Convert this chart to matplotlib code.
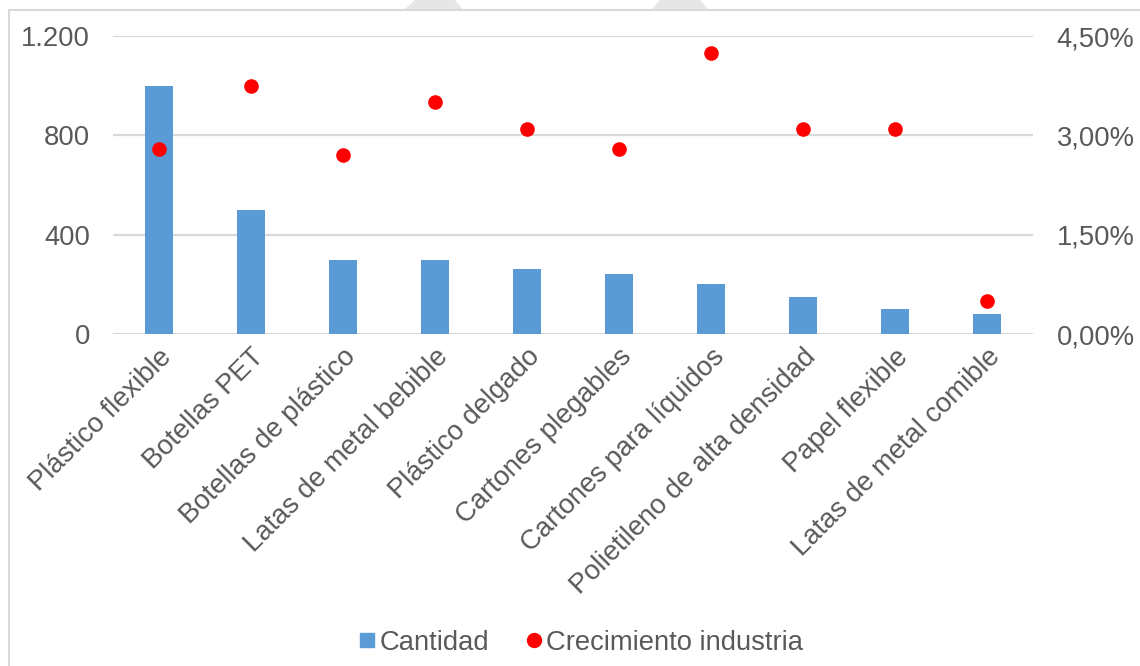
import numpy as np
import matplotlib.pyplot as plt
from matplotlib.lines import Line2D
from matplotlib.patches import Polygon, Rectangle

plt.rcParams['font.family'] = 'Liberation Sans'

# data
categorias = ['Plástico flexible', 'Botellas PET', 'Botellas de plástico',
              'Latas de metal bebible', 'Plástico delgado', 'Cartones plegables',
              'Cartones para líquidos', 'Polietileno de alta densidad',
              'Papel flexible', 'Latas de metal comible']
cantidad = [1000, 500, 300, 300, 260, 240, 200, 150, 100, 80]
crecimiento = [2.8, 3.75, 2.7, 3.5, 3.1, 2.8, 4.25, 3.1, 3.1, 0.5]  # %

gris = '#595959'
azul = '#5b9bd5'
rojo = '#ff0000'
fs = 19.7

fig = plt.figure(figsize=(11.4, 6.66), dpi=100)

# light frame and faint shapes along the top edge
fig.add_artist(Rectangle((9/1140, -0.1), 1.2, 1 - 10/666 + 0.1, transform=fig.transFigure,
                         fill=False, edgecolor='#d9d9d9', linewidth=1.5))
for xs in [(405, 415, 455, 462), (652, 660, 700, 708)]:
    pts = [(xs[0]/1140, 1 - 9/666), (xs[1]/1140, 1.0), (xs[2]/1140, 1.0), (xs[3]/1140, 1 - 9/666)]
    fig.add_artist(Polygon(pts, closed=True, transform=fig.transFigure,
                           facecolor='#e6e6e6', edgecolor='none'))

ax = fig.add_axes([113/1140, 1 - 334/666, 920/1140, 298/666])
x = np.arange(len(categorias))
ax.bar(x, cantidad, width=0.3, color=azul, zorder=2)
ax.set_xlim(-0.5, len(categorias) - 0.5)
ax.set_ylim(0, 1200)
ax.set_yticks([0, 400, 800, 1200])
ax.set_yticklabels(['{:,}'.format(v).replace(',', '.') for v in [0, 400, 800, 1200]])
ax.grid(axis='y', color='#d9d9d9', linewidth=1.6, zorder=0)
ax.set_axisbelow(True)
for s in ax.spines.values():
    s.set_visible(False)
ax.tick_params(axis='both', length=0, labelsize=fs, colors=gris, pad=16.5)
ax.set_xticks(x)
ax.set_xticklabels(categorias, rotation=45, ha='right', va='top',
                   rotation_mode='anchor')
ax.tick_params(axis='x', pad=7)

ax2 = ax.twinx()
ax2.plot(x, crecimiento, 'o', color=rojo, markersize=9.5, zorder=3)
ax2.set_ylim(0, 4.5)
ax2.set_yticks([0, 1.5, 3.0, 4.5])
ax2.set_yticklabels(['{:.2f}%'.format(v).replace('.', ',') for v in [0, 1.5, 3.0, 4.5]])
for s in ax2.spines.values():
    s.set_visible(False)
ax2.tick_params(axis='y', length=0, labelsize=fs, colors=gris, pad=17)

handles = [Line2D([], [], marker='s', linestyle='none', color=azul, markersize=10),
           Line2D([], [], marker='o', linestyle='none', color=rojo, markersize=10)]
fig.legend(handles, ['Cantidad', 'Crecimiento industria'], loc='center',
           bbox_to_anchor=(0.508, 1 - 643/666), ncol=2, frameon=False, fontsize=fs,
           labelcolor=gris, handletextpad=0.0, columnspacing=1.2, handlelength=0.9)

plt.savefig('out.png', dpi=100)
